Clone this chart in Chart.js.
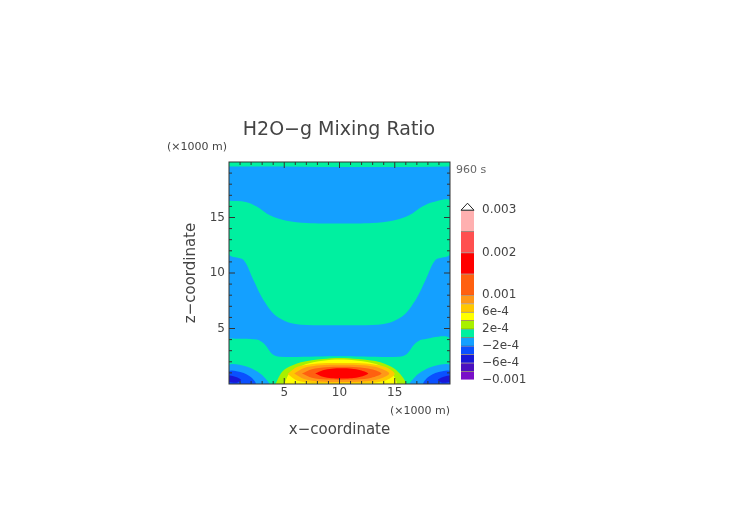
<!DOCTYPE html>
<html>
<head>
<meta charset="utf-8">
<script src="https://cdn.jsdelivr.net/npm/chart.js@4"></script>
<style>
  body { margin: 0; background: #fff; }
  #field { position: absolute; left: 0; top: 0; }
  #bar { position: absolute; left: 455px; top: 195px; }
</style>
</head>
<body>
<canvas id="field" width="752" height="532"></canvas>
<canvas id="bar" width="110" height="200"></canvas>
<script>
Chart.defaults.animation = false;
Chart.defaults.font.family = 'DejaVu Sans';
Chart.defaults.color = '#444';

// contour levels and colours (colour bar, bottom to top)
const levels = [-0.001, -8e-4, -6e-4, -4e-4, -2e-4, 0, 2e-4, 4e-4, 6e-4, 8e-4, 0.001, 0.0015, 0.002, 0.0025, 0.003];
const levelColors = ['#7a10c8', '#4a10c0', '#1818d8', '#0a50ff', '#14a0ff', '#00f0a0', '#a8f000', '#ffff00',
  '#ffc800', '#ff9818', '#ff6010', '#ff0000', '#ff5050', '#ffb0b0'];
const barTicks = [0.003, 0.002, 0.001, 6e-4, 2e-4, -2e-4, -6e-4, -0.001];
const barTickLabels = ['0.003', '0.002', '0.001', '6e-4', '2e-4', '\u22122e-4', '\u22126e-4', '\u22120.001'];
const axisTicks = [5, 10, 15];

// contour region outlines, [x, z] in km
const topStrip = [[0, 19.6], [20, 19.6], [20, 20], [0, 20], [0, 19.6]];
const upperBand = [[0, 16.5], [1.5, 16.4], [2.5, 16.0], [3.7, 15.2], [5.2, 14.7], [7, 14.5], [10, 14.45], [13, 14.5],
  [14.8, 14.7], [16.3, 15.2], [17.5, 16.0], [18.5, 16.4], [20, 16.5], [20, 11.7], [18.7, 11.2], [17.8, 9.4],
  [16.9, 7.6], [15.7, 6.1], [14, 5.4], [10, 5.3], [6, 5.4], [4.3, 6.1], [3.1, 7.6], [2.2, 9.4], [1.3, 11.2],
  [0, 11.7], [0, 16.5]];
const lowerBand = [[0, 4.1], [2.5, 4.0], [3.2, 3.6], [3.9, 2.7], [4.6, 2.45], [10, 2.5], [15.4, 2.45], [16.1, 2.7],
  [16.8, 3.6], [17.5, 4.0], [20, 4.1], [20, 0], [0, 0], [0, 4.1]];
const cornerL1 = [[0, 0], [0, 1.7], [1.5, 1.6], [2.6, 1.1], [3.3, 0.5], [3.6, 0], [0, 0]];
const cornerL2 = [[0, 0], [0, 1.15], [1.1, 1.05], [2.0, 0.6], [2.4, 0], [0, 0]];
const cornerL3 = [[0, 0.15], [0, 0.75], [0.7, 0.6], [1.1, 0.35], [0.7, 0.12], [0, 0.15]];
const cornerR1 = [[20, 0], [20, 1.7], [18.5, 1.6], [17.4, 1.1], [16.7, 0.5], [16.4, 0], [20, 0]];
const cornerR2 = [[20, 0], [20, 1.15], [18.9, 1.05], [18.0, 0.6], [17.6, 0], [20, 0]];
const cornerR3 = [[20, 0.15], [20, 0.75], [19.3, 0.6], [18.9, 0.35], [19.3, 0.12], [20, 0.15]];
const blobA = [[4.2, 0], [4.9, 1.2], [6.5, 1.95], [8.5, 2.25], [10, 2.35], [11.7, 2.25], [13.7, 1.95], [15.2, 1.2], [15.9, 0], [4.2, 0]];
const blobB = [[5.0, 0], [5.5, 1.0], [7, 1.8], [8.5, 2.1], [10, 2.2], [11.7, 2.1], [13.3, 1.8], [14.7, 1.0], [15.1, 0], [5.0, 0]];
const blobC = [[5.3, 0.9], [6.2, 1.55], [8, 1.85], [10.2, 1.9], [12.4, 1.85], [14.1, 1.55], [15, 0.9], [14.1, 0.3],
  [12.4, 0.08], [10.2, 0.05], [8, 0.08], [6.2, 0.3], [5.3, 0.9]];
const blobD = [[5.9, 0.95], [6.8, 1.45], [8.3, 1.68], [10.2, 1.73], [12.1, 1.68], [13.6, 1.45], [14.5, 0.95], [13.6, 0.45],
  [12.1, 0.22], [10.2, 0.18], [8.3, 0.22], [6.8, 0.45], [5.9, 0.95]];
const blobE = [[6.6, 0.95], [7.5, 1.33], [8.8, 1.52], [10.2, 1.56], [11.6, 1.52], [12.9, 1.33], [13.8, 0.95], [12.9, 0.57],
  [11.6, 0.4], [10.2, 0.37], [8.8, 0.4], [7.5, 0.57], [6.6, 0.95]];
const blobF = [[7.8, 0.95], [8.5, 1.25], [9.3, 1.38], [10.2, 1.42], [11.1, 1.38], [11.9, 1.25], [12.6, 0.95], [11.9, 0.65],
  [11.1, 0.52], [10.2, 0.5], [9.3, 0.52], [8.5, 0.65], [7.8, 0.95]];

// drawn bottom layer first
const regions = [
  [topStrip, 5], [upperBand, 5], [lowerBand, 5],
  [cornerL1, 4], [cornerR1, 4], [cornerL2, 3], [cornerR2, 3], [cornerL3, 2], [cornerR3, 2],
  [blobA, 6], [blobB, 7], [blobC, 8], [blobD, 9], [blobE, 10], [blobF, 11],
];

const bgPlugin = {
  id: 'bg',
  beforeDatasetsDraw(chart) {
    const a = chart.chartArea, c = chart.ctx;
    c.save();
    c.fillStyle = levelColors[4];
    c.fillRect(a.left, a.top, a.width, a.height);
    c.restore();
  },
  afterDraw(chart) {
    const a = chart.chartArea, c = chart.ctx, xs = chart.scales.x, ys = chart.scales.y;
    c.save();
    c.strokeStyle = '#333';
    c.lineWidth = 1;
    c.strokeRect(a.left, a.top, a.width, a.height);
    c.beginPath();
    for (let i = 1; i < 20; i++) {
      const len = i % 5 === 0 ? 6 : 3;
      const px = xs.getPixelForValue(i), py = ys.getPixelForValue(i);
      c.moveTo(px, a.bottom); c.lineTo(px, a.bottom - len);
      c.moveTo(px, a.top); c.lineTo(px, a.top + len);
      c.moveTo(a.left, py); c.lineTo(a.left + len, py);
      c.moveTo(a.right, py); c.lineTo(a.right - len, py);
    }
    c.stroke();
    c.fillStyle = '#444';
    c.font = '19px DejaVu Sans';
    c.textAlign = 'center';
    c.fillText('H2O\u2212g Mixing Ratio', 339, 135);
    c.font = '11px DejaVu Sans';
    c.textAlign = 'left';
    c.fillText('(\u00d71000 m)', 167, 150);
    c.fillText('(\u00d71000 m)', 390, 414);
    c.fillStyle = '#666';
    c.fillText('960 s', 456, 173);
    c.restore();
  }
};

new Chart(document.getElementById('field'), {
  type: 'scatter',
  data: {
    datasets: regions.map(([pts, lv], i) => ({
      data: pts.map(([x, y]) => ({ x, y })),
      showLine: true,
      fill: 'shape',
      backgroundColor: levelColors[lv],
      borderColor: levelColors[lv],
      borderWidth: 0,
      pointRadius: 0,
      tension: 0.3,
      order: regions.length - i,
    })),
  },
  options: {
    responsive: false,
    layout: { padding: { left: 178, top: 162, right: 302, bottom: 93 } },
    plugins: { legend: { display: false }, tooltip: { enabled: false } },
    scales: {
      x: {
        min: 0, max: 20,
        afterFit: s => { s.height = 55; },
        afterBuildTicks: s => { s.ticks = Array.from({ length: 21 }, (_, i) => ({ value: i })); },
        ticks: { autoSkip: false, maxRotation: 0, font: { size: 12 }, padding: 2,
          callback: v => axisTicks.includes(v) ? String(v) : '' },
        grid: { color: 'rgba(255,255,255,0.16)', drawTicks: false },
        border: { display: false },
        title: { display: true, text: 'x\u2212coordinate', font: { size: 15 }, padding: { top: 0, bottom: 0 } },
      },
      y: {
        min: 0, max: 20,
        afterFit: s => { s.width = 51; },
        afterBuildTicks: s => { s.ticks = Array.from({ length: 41 }, (_, i) => ({ value: i / 2 })); },
        ticks: { autoSkip: false, font: { size: 12 }, padding: 4,
          callback: v => axisTicks.includes(v) ? String(v) : '' },
        grid: { color: 'rgba(255,255,255,0.16)', drawTicks: false },
        border: { display: false },
        title: { display: true, text: 'z\u2212coordinate', font: { size: 15 }, padding: { top: 4, bottom: 0 } },
      },
    },
  },
  plugins: [bgPlugin],
});

const arrowPlugin = {
  id: 'arrow',
  afterDraw(chart) {
    const a = chart.chartArea, c = chart.ctx;
    c.save();
    c.beginPath();
    c.moveTo(a.left, a.top);
    c.lineTo((a.left + a.right) / 2, a.top - 7);
    c.lineTo(a.right, a.top);
    c.closePath();
    c.fillStyle = '#fff';
    c.fill();
    c.strokeStyle = '#222';
    c.lineWidth = 1;
    c.stroke();
    c.restore();
  }
};

new Chart(document.getElementById('bar'), {
  type: 'bar',
  data: {
    labels: [''],
    datasets: levelColors.map((col, i) => ({
      data: [[levels[i], levels[i + 1]]],
      backgroundColor: col,
      borderColor: 'rgba(60,20,0,0.45)',
      borderWidth: { top: 1, bottom: 0, left: 0, right: 0 },
      borderSkipped: false,
      grouped: false,
      barPercentage: 1,
      categoryPercentage: 1,
    })),
  },
  options: {
    responsive: false,
    layout: { padding: { left: 6, top: 12, right: 0, bottom: 12 } },
    plugins: { legend: { display: false }, tooltip: { enabled: false } },
    scales: {
      x: { display: false },
      y: {
        position: 'right',
        min: -0.001, max: 0.003,
        afterFit: s => { s.width = 91; },
        afterBuildTicks: s => { s.ticks = barTicks.map(v => ({ value: v })); },
        ticks: { autoSkip: false, font: { size: 12 }, color: '#444', padding: 8,
          callback: (v, i) => barTickLabels[i] },
        grid: { display: false, drawTicks: false },
        border: { display: false },
      },
    },
  },
  plugins: [arrowPlugin],
});
</script>
</body>
</html>
